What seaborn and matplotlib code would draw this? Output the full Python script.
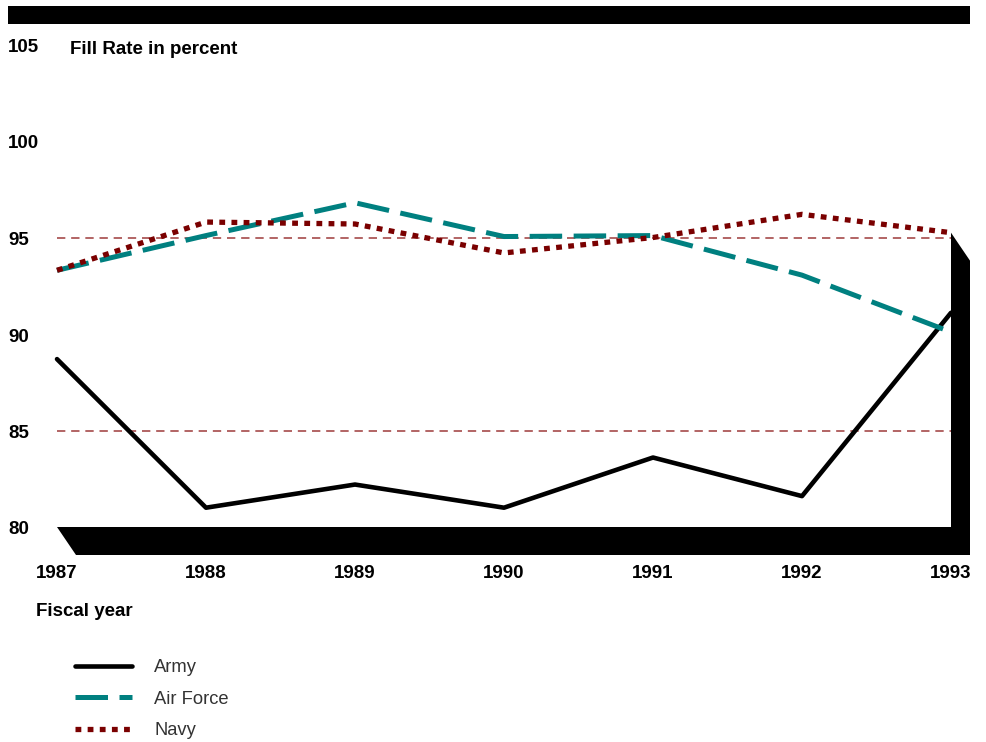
import numpy as np
import pandas as pd
import seaborn as sns
import matplotlib.pyplot as plt
from matplotlib.patches import Polygon, Rectangle

# Veriler
years = [1987, 1988, 1989, 1990, 1991, 1992, 1993]
army = [88.7, 81.0, 82.2, 81.0, 83.6, 81.6, 91.1]
air_force = [93.3, 95.1, 96.8, 95.05, 95.1, 93.05, 90.1]
navy = [93.3, 95.8, 95.7, 94.2, 95.0, 96.2, 95.25]
y_ticks = [80, 85, 90, 95, 100, 105]
ref_lines = [85, 95]

df = pd.DataFrame({"year": years, "Army": army, "Air Force": air_force, "Navy": navy})

sns.set_style("white")
plt.rcParams['font.family'] = ['Liberation Sans', 'DejaVu Sans']
plt.rcParams['text.color'] = 'black'
plt.rcParams['xtick.color'] = 'black'

fig = plt.figure(figsize=(9.87, 7.42), dpi=100)
ax = fig.add_axes([57 / 987, 1 - 527 / 742, 894 / 987, 482.5 / 742])
ax.set_xlim(years[0], years[-1])
ax.set_ylim(y_ticks[0], y_ticks[-1])

# referans çizgileri
for r in ref_lines:
    ax.axhline(r, color="#a54a4a", lw=1.2, dashes=(5, 3.5), zorder=1)

# gölge / 3D taban ve duvar
dx = 19 / 894 * (years[-1] - years[0])
dy = 28 / 19.3
x0, x1, yb, yt = years[0], years[-1], y_ticks[0], navy[-1]
shadow = Polygon([(x0, yb), (x1, yb), (x1, yt), (x1 + dx, yt - dy),
                  (x1 + dx, yb - dy), (x0 + dx, yb - dy)],
                 closed=True, facecolor="black", edgecolor="none",
                 clip_on=False, zorder=2)
ax.add_patch(shadow)

sns.lineplot(data=df, x="year", y="Army", ax=ax, color="black", lw=3.3,
             label="Army", zorder=4, clip_on=False)
sns.lineplot(data=df, x="year", y="Air Force", ax=ax, color="#008080", lw=3.6,
             dashes=False, label="Air Force", zorder=4, clip_on=False)
sns.lineplot(data=df, x="year", y="Navy", ax=ax, color="#7a0000", lw=3.8,
             label="Navy", zorder=5, clip_on=False)
ax.lines[-2].set_dashes((6.5, 2.3))
ax.lines[-1].set_dashes((1.1, 1.2))

for s in ax.spines.values():
    s.set_visible(False)

ax.set_xticks(years)
ax.set_xticklabels([str(y) for y in years], fontsize=13.5, fontweight="bold")
ax.set_yticks(y_ticks)
ax.set_yticklabels([])
ax.tick_params(length=0, axis="x", pad=27)
ax.tick_params(length=0, axis="y")
ax.set_xlabel("")
ax.set_ylabel("")

for t in y_ticks:
    y_px = 527 - (t - y_ticks[0]) * 19.3 + 3
    fig.text(8 / 987, 1 - y_px / 742, str(t), fontsize=13.5, fontweight="bold",
             ha="left", va="center")

fig.text(70 / 987, 1 - 50 / 742, "Fill Rate in percent", fontsize=13.5,
         fontweight="bold", ha="left", va="center")
fig.text(36 / 987, 1 - 612 / 742, "Fiscal year", fontsize=13.5,
         fontweight="bold", ha="left", va="center")

# üst siyah bant
fig.patches.append(Rectangle((8 / 987, 1 - 24 / 742), 962 / 987, 18 / 742,
                             transform=fig.transFigure, facecolor="black",
                             edgecolor="none"))

ax.legend_.remove()
handles, labels = ax.get_legend_handles_labels()
leg = fig.legend(handles, labels, loc="upper left",
                 bbox_to_anchor=(59 / 987, 1 - 643 / 742), frameon=False,
                 fontsize=13.2, handlelength=3.1, handletextpad=1.2,
                 labelspacing=0.78)
for t in leg.get_texts():
    t.set_color("#333333")

plt.savefig("out.png", dpi=100)
